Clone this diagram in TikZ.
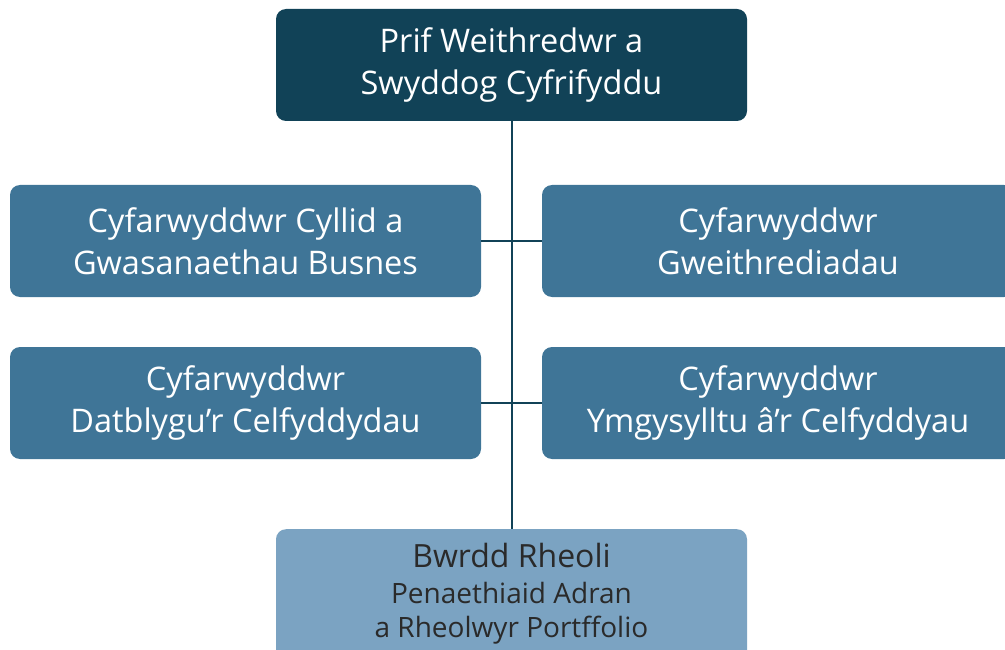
\documentclass[tikz,border=0pt]{standalone}
\usepackage{fontspec}
\setmainfont{Open Sans}
\definecolor{topblue}{HTML}{114257}
\definecolor{midblue}{HTML}{3F7597}
\definecolor{lightblue}{HTML}{7BA3C2}
\definecolor{linecol}{HTML}{114257}
\definecolor{darktext}{HTML}{2A2A2A}
\begin{document}
\begin{tikzpicture}[x=1pt,y=-1pt,
  box/.style={rounded corners=10pt, inner sep=0pt, align=center,
    font=\fontsize{32.5}{42}\selectfont},
  topbox/.style={box, fill=topblue, text=white},
  midbox/.style={box, fill=midblue, text=white},
  lowbox/.style={box, fill=lightblue, text=darktext},
  lowtxt/.style={text=darktext, inner sep=0pt, anchor=base},
  conn/.style={draw=linecol, line width=2pt}]
\useasboundingbox (0,0) rectangle (1005,650);
\clip (0,0) rectangle (1005,650);
\node[topbox, minimum width=471pt, minimum height=112pt] (top) at (511.5,65) {Prif Weithredwr a\\Swyddog Cyfrifyddu};
\node[midbox, minimum width=471pt, minimum height=112pt] (l1) at (245.5,241) {Cyfarwyddwr Cyllid a\\Gwasanaethau Busnes};
\node[midbox, minimum width=472pt, minimum height=112pt] (r1) at (778,241) {Cyfarwyddwr\\Gweithrediadau};
\node[midbox, minimum width=471pt, minimum height=112pt] (l2) at (245.5,403) {Cyfarwyddwr\\Datblygu’r Celfyddydau};
\node[midbox, minimum width=472pt, minimum height=112pt] (r2) at (778,403) {Cyfarwyddwr\\Ymgysylltu â’r Celfyddyau};
\node[lowbox, minimum width=471pt, minimum height=150pt, anchor=north] (bot) at (511.5,529) {};
\node[lowtxt, font=\fontsize{32}{38}\selectfont] (bt1) at (511.5,567) {Bwrdd Rheoli};
\node[lowtxt, font=\fontsize{28}{34}\selectfont] (bt2) at (511.5,603) {Penaethiaid Adran};
\node[lowtxt, font=\fontsize{28}{34}\selectfont] (bt3) at (511.5,637) {a Rheolwyr Portffolio};
\draw[conn] (top.south) -- (bot.north);
\draw[conn] (l1.east) -- (r1.west);
\draw[conn] (l2.east) -- (r2.west);
\end{tikzpicture}
\end{document}
